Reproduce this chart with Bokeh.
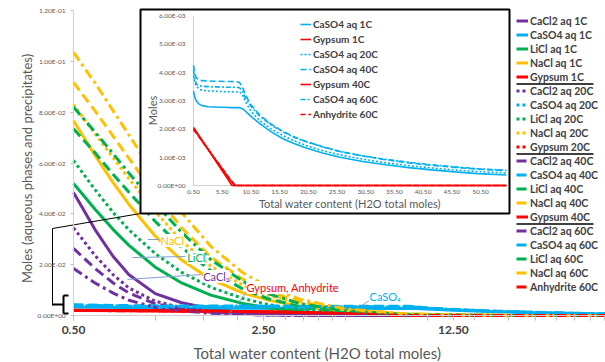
import math
from bokeh.plotting import figure
from bokeh.models import Range1d, FixedTicker, Legend, LegendItem, LinearScale
from bokeh.core.properties import value
from bokeh.embed import file_html
from bokeh.resources import INLINE

# ---------------- data ----------------
water_main = [0.5, 0.6, 0.7, 0.8, 1.0, 1.25, 1.6, 2.1, 2.6, 3.4, 5.0, 8.0, 12.0, 22.0, 45.0]

cacl2_1c = [0.0484, 0.0338, 0.0232, 0.0160, 0.0086, 0.0050, 0.0027, 0.0012, 0.0005, 0.0002, 0.0001, 0.0, 0.0, 0.0, 0.0]
cacl2_20c = [0.0345, 0.0236, 0.0160, 0.0108, 0.0056, 0.0031, 0.0016, 0.0007, 0.0003, 0.0001, 0.0, 0.0, 0.0, 0.0, 0.0]
cacl2_40c = [0.0264, 0.0185, 0.0128, 0.0088, 0.0046, 0.0025, 0.0013, 0.0006, 0.0002, 0.0001, 0.0, 0.0, 0.0, 0.0, 0.0]
cacl2_60c = [0.0185, 0.0128, 0.0088, 0.0060, 0.0032, 0.0018, 0.0009, 0.0004, 0.0002, 0.0001, 0.0, 0.0, 0.0, 0.0, 0.0]

licl_1c = [0.0519, 0.0418, 0.0338, 0.0276, 0.0190, 0.0128, 0.0080, 0.0047, 0.0030, 0.0016, 0.0006, 0.0002, 0.0001, 0.0, 0.0]
licl_20c = [0.0610, 0.0495, 0.0405, 0.0337, 0.0243, 0.0170, 0.0111, 0.0067, 0.0043, 0.0023, 0.0009, 0.0003, 0.0001, 0.0, 0.0]
licl_40c = [0.0735, 0.0640, 0.0555, 0.0485, 0.0370, 0.0268, 0.0176, 0.0104, 0.0066, 0.0035, 0.0013, 0.0004, 0.0001, 0.0, 0.0]
licl_60c = [0.0820, 0.0722, 0.0636, 0.0560, 0.0440, 0.0327, 0.0220, 0.0134, 0.0086, 0.0047, 0.0018, 0.0005, 0.0002, 0.0, 0.0]

nacl_1c = [0.0766, 0.0630, 0.0522, 0.0437, 0.0312, 0.0218, 0.0142, 0.0089, 0.0061, 0.0036, 0.0015, 0.0005, 0.0002, 0.0, 0.0]
nacl_20c = [0.0830, 0.0715, 0.0620, 0.0538, 0.0408, 0.0293, 0.0194, 0.0119, 0.0080, 0.0046, 0.0019, 0.0006, 0.0002, 0.0, 0.0]
nacl_40c = [0.0917, 0.0805, 0.0705, 0.0618, 0.0475, 0.0345, 0.0230, 0.0142, 0.0095, 0.0054, 0.0022, 0.0007, 0.0002, 0.0, 0.0]
nacl_60c = [0.1035, 0.0915, 0.0805, 0.0710, 0.0550, 0.0405, 0.0272, 0.0168, 0.0112, 0.0064, 0.0026, 0.0008, 0.0002, 0.0, 0.0]

water_caso4 = [0.5, 0.75, 1.0, 1.5, 2.0, 3.0, 4.0, 5.0, 6.0, 7.0, 8.0, 8.5, 9.0, 9.5, 10.5,
               12.0, 14.0, 16.0, 18.0, 20.0, 23.0, 26.0, 30.0, 34.0, 38.0, 42.0, 46.0, 50.0, 55.0]
caso4_1c = [0.00333, 0.00310, 0.00298, 0.00287, 0.00282, 0.00278, 0.00277, 0.00276, 0.00276, 0.00275, 0.00275,
            0.00275, 0.00271, 0.00263, 0.00244, 0.00219, 0.00190, 0.00166, 0.00148, 0.00133, 0.00115, 0.00100,
            0.00085, 0.00073, 0.00063, 0.00055, 0.00048, 0.00042, 0.00037]
caso4_20c = [0.00388, 0.00362, 0.00350, 0.00340, 0.00336, 0.00334, 0.00333, 0.00332, 0.00331, 0.00331, 0.00330,
             0.00330, 0.00322, 0.00298, 0.00262, 0.00230, 0.00200, 0.00177, 0.00158, 0.00142, 0.00123, 0.00108,
             0.00093, 0.00080, 0.00070, 0.00062, 0.00055, 0.00049, 0.00044]
caso4_40c = [0.00424, 0.00392, 0.00380, 0.00372, 0.00370, 0.00369, 0.00368, 0.00368, 0.00367, 0.00367, 0.00366,
             0.00364, 0.00350, 0.00322, 0.00285, 0.00250, 0.00217, 0.00192, 0.00172, 0.00156, 0.00137, 0.00120,
             0.00104, 0.00091, 0.00080, 0.00071, 0.00064, 0.00058, 0.00052]
caso4_60c = [0.00406, 0.00372, 0.00358, 0.00352, 0.00350, 0.00349, 0.00348, 0.00348, 0.00347, 0.00347, 0.00347,
             0.00345, 0.00336, 0.00310, 0.00280, 0.00246, 0.00214, 0.00190, 0.00170, 0.00155, 0.00136, 0.00120,
             0.00105, 0.00092, 0.00082, 0.00073, 0.00066, 0.00059, 0.00054]

water_gyp = [0.5, 1.0, 2.0, 3.0, 4.0, 5.0, 6.0, 7.0, 7.2, 7.4, 7.6, 8.0, 10.0, 20.0, 30.0, 40.0, 55.0]
gypsum_1c = [0.00205, 0.00190, 0.00159, 0.00128, 0.00098, 0.00067, 0.00037, 0.00006, 0.0, 0.0, 0.0, 0.0, 0.0, 0.0, 0.0, 0.0, 0.0]
gypsum_20c = [0.00203, 0.00188, 0.00159, 0.00129, 0.00100, 0.00070, 0.00041, 0.00012, 0.00006, 0.0, 0.0, 0.0, 0.0, 0.0, 0.0, 0.0, 0.0]
gypsum_40c = [0.00200, 0.00186, 0.00158, 0.00130, 0.00101, 0.00073, 0.00045, 0.00017, 0.00011, 0.00006, 0.0, 0.0, 0.0, 0.0, 0.0, 0.0, 0.0]
anhydrite_60c = [0.00197, 0.00184, 0.00156, 0.00129, 0.00101, 0.00074, 0.00046, 0.00020, 0.00015, 0.00010, 0.00005, 0.0, 0.0, 0.0, 0.0, 0.0, 0.0]

x_ticks = [0.5, 2.5, 12.5]
x_tick_labels = ["0.50", "2.50", "12.50"]
x_minor_ticks = [0.5, 1.0, 1.5, 2.0, 2.5, 3.0, 3.5, 4.0, 4.5, 5.0, 10.0, 15.0, 20.0, 25.0, 30.0, 35.0, 40.0, 45.0]
y_ticks = [0.0, 0.02, 0.04, 0.06, 0.08, 0.10, 0.12]
y_tick_labels = ["0.00E+00", "2.00E-02", "4.00E-02", "6.00E-02", "8.00E-02", "1.00E-01", "1.20E-01"]

inset_x_ticks = [0.5, 5.5, 10.5, 15.5, 20.5, 25.5, 30.5, 35.5, 40.5, 45.5, 50.5]
inset_x_tick_labels = ["0.50", "5.50", "10.50", "15.50", "20.50", "25.50", "30.50", "35.50", "40.50", "45.50", "50.50"]
inset_y_ticks = [0.0, 0.001, 0.002, 0.003, 0.004, 0.005, 0.006]
inset_y_tick_labels = ["0.00E+00", "1.00E-03", "2.00E-03", "3.00E-03", "4.00E-03", "5.00E-03", "6.00E-03"]

callout_text = ["NaCl", "LiCl", "CaCl\u2082", "Gypsum, Anhydrite", "CaSO\u2084"]
callout_x = [1.045, 1.31, 1.50, 2.165, 6.14]
callout_y = [0.0295, 0.0228, 0.0153, 0.0110, 0.0075]
leader_x0 = [0.94, 0.824, 0.79, 2.165, 5.76]
leader_y0 = [0.0299, 0.0228, 0.0142, 0.0090, 0.0039]
leader_x1 = [1.03, 1.29, 1.47, 1.87, 6.10]
leader_y1 = [0.0299, 0.0232, 0.0161, 0.0008, 0.0058]

# ---------------- styles / layout ----------------
PURPLE, BLUE, GREEN, ORANGE, RED = "#7030A0", "#00B0F0", "#00B050", "#FFC000", "#FF0000"
GRAY = "#595959"
FONT = "Lato"
DOT, DASH, DASHDOT = "3 3", "10 5", "10 4 3 4"

W, H = 605, 362
X05_PX = 73             # pixel of water = 0.5
PX_PER_DEC = 271.8
Y0_PX, Y12_PX = 315, 10  # pixels of 0 and 0.12


def mx(px):
    return 0.5 * 10 ** ((px - X05_PX) / PX_PER_DEC)


def my(py):
    return (Y0_PX - py) / (Y0_PX - Y12_PX) * 0.12


# inset anchors (pixels)
I0X, I1X, I0Y, I1Y = 193, 480, 185, 15
kx = (I1X - I0X) / 50.0
ky = (I0Y - I1Y) / 0.006


def ix(px):
    return 0.5 + (px - I0X) / kx


def iy(py):
    return (I0Y - py) / ky


p = figure(width=W, height=H, x_axis_type="log",
           x_range=Range1d(mx(0), mx(W)), y_range=Range1d(my(H), my(0)),
           output_backend="svg", toolbar_location=None,
           min_border_left=0, min_border_right=0, min_border_top=0, min_border_bottom=0)
p.extra_x_ranges = {"ix": Range1d(ix(0), ix(W))}
p.extra_y_ranges = {"iy": Range1d(iy(H), iy(0))}
p.extra_x_scales = {"ix": LinearScale()}
p.extra_y_scales = {"iy": LinearScale()}
p.background_fill_color = "white"
p.border_fill_color = "white"
p.outline_line_color = None
p.xgrid.visible = False
p.ygrid.visible = False

# axes (placed inside the frame at water = 0.5 and moles = 0)
xa = p.xaxis[0]
xa.fixed_location = 0.0
xa.bounds = (0.5, mx(W))
xa.ticker = FixedTicker(ticks=x_ticks, minor_ticks=x_minor_ticks)
xa.major_label_overrides = dict(zip(x_ticks, x_tick_labels))
xa.axis_line_color = "#D0D0D0"
xa.major_tick_line_color = "#BFBFBF"
xa.minor_tick_line_color = "#BFBFBF"
xa.major_tick_out = 5
xa.major_tick_in = 0
xa.minor_tick_out = 5
xa.minor_tick_in = 0
xa.major_label_standoff = 5
xa.major_label_text_font = FONT
xa.major_label_text_font_size = "12px"
xa.major_label_text_font_style = "bold"
xa.major_label_text_color = "#404040"

ya = p.yaxis[0]
ya.fixed_location = 0.5
ya.bounds = (y_ticks[0], y_ticks[-1])
ya.ticker = FixedTicker(ticks=y_ticks, minor_ticks=[])
ya.major_label_overrides = dict(zip(y_ticks, y_tick_labels))
ya.axis_line_color = "#D0D0D0"
ya.major_tick_line_color = "#BFBFBF"
ya.major_tick_out = 3
ya.major_tick_in = 0
ya.minor_tick_line_color = None
ya.major_label_standoff = 5
ya.major_label_text_font = FONT
ya.major_label_text_font_size = "6.5px"
ya.major_label_text_color = GRAY

# axis titles
p.text(x=[mx(317)], y=[my(352)], text=["Total water content (H2O total moles)"],
       text_font=value(FONT), text_font_size="15px", text_color=GRAY,
       text_align="center", text_baseline="middle")
p.text(x=[mx(26)], y=[my(168)], text=["Moles (aqueous phases and precipitates)"], angle=math.pi / 2,
       text_font=value(FONT), text_font_size="13px", text_color=GRAY,
       text_align="center", text_baseline="middle")

# main series
main_series = [
    ("CaCl2 aq 1C", water_main, cacl2_1c, PURPLE, "solid"),
    ("CaSO4 aq 1C", water_caso4, caso4_1c, BLUE, "solid"),
    ("LiCl aq 1C", water_main, licl_1c, GREEN, "solid"),
    ("NaCl aq 1C", water_main, nacl_1c, ORANGE, "solid"),
    ("Gypsum 1C", water_gyp, gypsum_1c, RED, "solid"),
    ("CaCl2 aq 20C", water_main, cacl2_20c, PURPLE, DOT),
    ("CaSO4 aq 20C", water_caso4, caso4_20c, BLUE, DOT),
    ("LiCl aq 20C", water_main, licl_20c, GREEN, DOT),
    ("NaCl aq 20C", water_main, nacl_20c, ORANGE, DOT),
    ("Gypsum 20C", water_gyp, gypsum_20c, RED, DOT),
    ("CaCl2 aq 40C", water_main, cacl2_40c, PURPLE, DASH),
    ("CaSO4 aq 40C", water_caso4, caso4_40c, BLUE, DASH),
    ("LiCl aq 40C", water_main, licl_40c, GREEN, DASH),
    ("NaCl aq 40C", water_main, nacl_40c, ORANGE, DASH),
    ("Gypsum 40C", water_gyp, gypsum_40c, RED, "solid"),
    ("CaCl2 aq 60C", water_main, cacl2_60c, PURPLE, DASHDOT),
    ("CaSO4 aq 60C", water_caso4, caso4_60c, BLUE, DASHDOT),
    ("LiCl aq 60C", water_main, licl_60c, GREEN, DASHDOT),
    ("NaCl aq 60C", water_main, nacl_60c, ORANGE, DASHDOT),
    ("Anhydrite 60C", water_gyp, anhydrite_60c, RED, DASHDOT),
]
main_items = []
for name, xs, ys, col, dash in main_series:
    r = p.line(xs, ys, line_color=col, line_width=3, line_dash=dash)
    main_items.append(LegendItem(label=name, renderers=[r]))

# callouts in the main chart
p.segment(x0=leader_x0, y0=leader_y0, x1=leader_x1, y1=leader_y1, line_color="#7F9FCF", line_width=1)
p.text(x=callout_x, y=callout_y, text=callout_text,
       text_color=[ORANGE, GREEN, PURPLE, RED, BLUE],
       text_font=value(FONT), text_font_size="11px", text_align="left", text_baseline="middle",
       background_fill_color="white")

# legend separators (under Gypsum 1C / 20C / 40C)
LEG_LEFT, LEG_TOP, ITEM_H, ITEM_SP = 516, 14, 13, 1
sep_rows = [4, 9, 14]
sep_y = [my(LEG_TOP + (ITEM_H + ITEM_SP) * (i + 1) - 0.5) for i in sep_rows]
p.segment(x0=[mx(LEG_LEFT)] * 3, x1=[mx(593)] * 3, y0=sep_y, y1=sep_y, line_color="black", line_width=1.5)

# ---------------- bracket + connector to inset ----------------
bracket_segments = [((68, 295), (63, 295), 2), ((63, 295), (63, 313), 2), ((63, 313), (68, 313), 2),
                    ((52, 304), (63, 304), 2), ((52, 305), (52, 228), 1), ((52, 228), (140, 213), 1)]
for (ax0, ay0), (ax1, ay1), lw in bracket_segments:
    p.segment(x0=[mx(ax0)], y0=[my(ay0)], x1=[mx(ax1)], y1=[my(ay1)], line_color="black", line_width=lw)

# ---------------- inset ----------------
p.quad(left=[ix(140)], right=[ix(509)], bottom=[iy(213)], top=[iy(9)],
       fill_color="white", line_color="black", line_width=2,
       x_range_name="ix", y_range_name="iy")
p.line([inset_x_ticks[0], inset_x_ticks[0]], [inset_y_ticks[0], inset_y_ticks[-1]],
       line_color="#D0D0D0", line_width=1, x_range_name="ix", y_range_name="iy")
p.line([inset_x_ticks[0], water_caso4[-1]], [inset_y_ticks[0], inset_y_ticks[0]],
       line_color="#D0D0D0", line_width=1, x_range_name="ix", y_range_name="iy")

p.text(x=[inset_x_ticks[0]] * len(inset_y_ticks), y=inset_y_ticks, text=inset_y_tick_labels,
       x_offset=-8, text_font=value(FONT), text_font_size="6.5px", text_color=GRAY,
       text_align="right", text_baseline="middle", x_range_name="ix", y_range_name="iy")
p.text(x=inset_x_ticks, y=[inset_y_ticks[0]] * len(inset_x_ticks), text=inset_x_tick_labels,
       y_offset=4, text_font=value(FONT), text_font_size="6.5px", text_color=GRAY,
       text_align="center", text_baseline="top", x_range_name="ix", y_range_name="iy")
p.text(x=[(inset_x_ticks[0] + water_caso4[-1]) / 2], y=[inset_y_ticks[0]],
       text=["Total water content (H2O total moles)"], y_offset=18,
       text_font=value(FONT), text_font_size="11px", text_color=GRAY,
       text_align="center", text_baseline="middle", x_range_name="ix", y_range_name="iy")
p.text(x=[inset_x_ticks[0]], y=[(inset_y_ticks[0] + inset_y_ticks[-1]) / 2], text=["Moles"],
       x_offset=-41, y_offset=10, angle=math.pi / 2,
       text_font=value(FONT), text_font_size="11px", text_color=GRAY,
       text_align="center", text_baseline="middle", x_range_name="ix", y_range_name="iy")

inset_series = [
    ("CaSO4 aq 1C", water_caso4, caso4_1c, BLUE, "solid"),
    ("Gypsum 1C", water_gyp, gypsum_1c, RED, "solid"),
    ("CaSO4 aq 20C", water_caso4, caso4_20c, BLUE, "2 2"),
    ("CaSO4 aq 40C", water_caso4, caso4_40c, BLUE, "6 3"),
    ("Gypsum 40C", water_gyp, gypsum_40c, RED, "solid"),
    ("CaSO4 aq 60C", water_caso4, caso4_60c, BLUE, "5 2 2 2"),
    ("Anhydrite 60C", water_gyp, anhydrite_60c, RED, "5 3"),
]
inset_renderers = {}
for name, xs, ys, col, dash in inset_series:
    if col == RED:
        continue
    inset_renderers[name] = p.line(xs, ys, line_color=col, line_width=1.6, line_dash=dash,
                                   x_range_name="ix", y_range_name="iy")
for name, xs, ys, col, dash in inset_series:
    if col != RED:
        continue
    inset_renderers[name] = p.line(xs, ys, line_color=col, line_width=1.6, line_dash=dash,
                                   x_range_name="ix", y_range_name="iy")
inset_items = [LegendItem(label=n, renderers=[inset_renderers[n]]) for n, *_ in inset_series]

# ---------------- legends ----------------
leg_main = Legend(items=main_items, location=(LEG_LEFT, H - (LEG_TOP + 20 * ITEM_H + 19 * ITEM_SP)),
                  orientation="vertical", padding=0, margin=0, spacing=ITEM_SP,
                  glyph_width=12, glyph_height=ITEM_H, label_height=ITEM_H, label_standoff=2,
                  label_text_font=FONT, label_text_font_size="10.5px", label_text_font_style="bold",
                  label_text_color="#404040", border_line_color=None, background_fill_alpha=0)
p.add_layout(leg_main)

IL_LEFT, IL_TOP, IL_H, IL_SP = 300, 18, 12, 3
leg_inset = Legend(items=inset_items, location=(IL_LEFT, H - (IL_TOP + 7 * IL_H + 6 * IL_SP)),
                   orientation="vertical", padding=0, margin=0, spacing=IL_SP,
                   glyph_width=11, glyph_height=IL_H, label_height=IL_H, label_standoff=2,
                   label_text_font=FONT, label_text_font_size="10px", label_text_font_style="bold",
                   label_text_color="#404040", border_line_color=None, background_fill_alpha=0)
p.add_layout(leg_inset)

open("out.html", "w").write(file_html(p, INLINE))
